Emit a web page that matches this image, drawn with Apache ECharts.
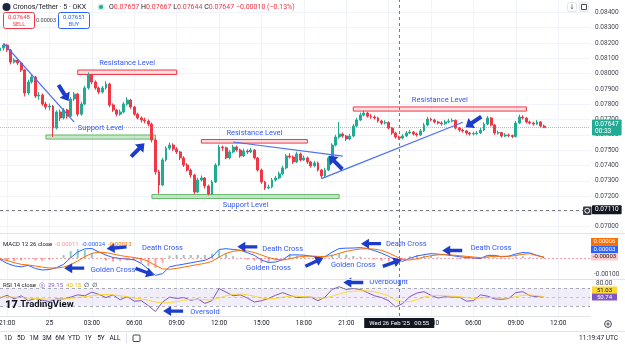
<!DOCTYPE html>
<html>
<head>
<meta charset="utf-8">
<title>Cronos/Tether 5 OKX</title>
<script src="https://cdn.jsdelivr.net/npm/echarts@6.0.0/dist/echarts.min.js"></script>
<style>
html,body{margin:0;padding:0;background:#fff}
#chart{width:625px;height:351px}
</style>
</head>
<body>
<div id="chart"></div>
<script>
// prices are kept in 1/100000 USDT, MACD in 1e-5 too
var opens = [8150,8167,8186,8154,8075,8088,8069,8023,7873,7945,
  7977,7853,7860,7801,7782,7788,7644,7749,7710,7762,
  7722,7834,7866,7735,7801,7906,7990,7945,7906,7879,
  7906,7932,7795,7762,7735,7749,7801,7827,7782,7735,
  7710,7697,7690,7670,7566,7358,7272,7436,7513,7533,
  7507,7488,7449,7403,7370,7337,7226,7305,7318,7266,
  7213,7292,7403,7520,7515,7449,7488,7520,7501,7462,
  7494,7488,7501,7449,7370,7292,7253,7259,7305,7318,
  7345,7384,7462,7455,7423,7475,7436,7449,7423,7397,
  7416,7370,7331,7370,7449,7533,7586,7605,7592,7573,
  7592,7657,7697,7729,7742,7722,7716,7710,7690,7677,
  7680,7644,7612,7586,7579,7592,7612,7618,7605,7599,
  7625,7664,7703,7697,7684,7677,7672,7684,7690,7694,
  7644,7631,7625,7612,7605,7608,7612,7631,7670,7710,
  7664,7612,7615,7592,7599,7595,7589,7677,7716,7710,
  7684,7677,7670,7684,7657];
var closes = [8167,8186,8154,8075,8088,8069,8023,7873,7945,7977,
  7853,7860,7801,7782,7788,7644,7749,7710,7762,7722,
  7834,7866,7735,7801,7906,7990,7945,7906,7879,7906,
  7932,7795,7762,7735,7749,7801,7827,7782,7735,7710,
  7697,7690,7670,7566,7358,7272,7436,7513,7533,7507,
  7488,7449,7403,7370,7337,7226,7305,7318,7266,7213,
  7292,7403,7520,7515,7449,7488,7520,7501,7462,7494,
  7488,7501,7449,7370,7292,7253,7259,7305,7318,7345,
  7384,7462,7455,7423,7475,7436,7449,7423,7397,7416,
  7370,7331,7370,7449,7533,7586,7605,7592,7573,7592,
  7657,7697,7729,7742,7722,7716,7710,7690,7677,7680,
  7644,7612,7586,7579,7592,7612,7618,7605,7599,7625,
  7664,7703,7697,7684,7677,7672,7684,7690,7694,7644,
  7631,7625,7612,7605,7608,7612,7631,7670,7710,7664,
  7612,7615,7592,7599,7595,7589,7677,7716,7710,7684,
  7677,7670,7684,7657,7647];
var highs = [8192,8195,8192,8160,8100,8095,8080,8030,7960,7995,
  7985,7880,7870,7815,7805,7795,7760,7765,7775,7770,
  7845,7880,7875,7815,7920,8008,7998,7955,7915,7920,
  7950,7940,7805,7770,7765,7815,7845,7835,7790,7745,
  7720,7712,7700,7680,7575,7370,7450,7525,7550,7545,
  7520,7495,7460,7415,7380,7345,7320,7335,7325,7275,
  7305,7415,7535,7530,7522,7500,7535,7530,7510,7510,
  7505,7515,7508,7455,7380,7300,7275,7318,7332,7360,
  7398,7475,7480,7465,7490,7485,7465,7458,7430,7430,
  7425,7378,7385,7460,7545,7600,7684,7615,7600,7605,
  7670,7710,7745,7758,7750,7735,7728,7718,7698,7695,
  7688,7650,7620,7595,7605,7625,7632,7625,7615,7638,
  7678,7718,7712,7705,7692,7688,7698,7705,7708,7700,
  7652,7640,7632,7620,7620,7625,7645,7682,7722,7716,
  7670,7628,7620,7612,7608,7602,7690,7732,7728,7715,
  7692,7685,7696,7690,7667];
var lows = [8140,8150,8140,8060,8065,8055,8010,7850,7860,7935,
  7840,7830,7790,7765,7760,7586,7635,7690,7700,7705,
  7715,7820,7720,7725,7795,7895,7930,7895,7865,7870,
  7895,7780,7750,7720,7725,7740,7790,7770,7725,7700,
  7680,7675,7655,7550,7340,7215,7265,7425,7500,7495,
  7475,7435,7390,7360,7320,7212,7220,7295,7250,7205,
  7208,7285,7395,7495,7440,7440,7480,7490,7450,7455,
  7475,7480,7440,7360,7280,7240,7245,7250,7295,7310,
  7335,7375,7445,7410,7415,7425,7430,7410,7385,7388,
  7360,7315,7325,7362,7440,7525,7575,7580,7560,7565,
  7585,7650,7690,7720,7712,7705,7700,7680,7665,7668,
  7635,7600,7575,7568,7570,7585,7605,7595,7588,7592,
  7618,7655,7688,7675,7668,7660,7665,7678,7682,7635,
  7620,7615,7600,7595,7596,7600,7605,7625,7662,7655,
  7600,7602,7582,7585,7585,7578,7582,7670,7700,7675,
  7668,7660,7664,7650,7644];

// indicators, one reading every 30 minutes
var macd = [-9,-32,-47,-53,-44,-63,-72,-69,-58,-38,
  2,36,55,57,36,17,3,-3,-6,-11,
  -33,-68,-104,-94,-53,-44,-37,-29,-21,-14,
  6,51,56,51,47,32,16,-12,-27,-24,
  -10,18,19,17,11,5,8,35,57,59,
  60,62,57,44,29,10,-12,-20,-2,12,
  20,26,23,20,14,8,3,0,-3,16,
  16,7,11,24,33,30,16,3];
var signal = [-5,-15,-28,-38,-42,-48,-55,-60,-60,-55,
  -40,-18,8,28,35,32,24,15,8,3,
  -5,-20,-45,-65,-68,-62,-55,-47,-39,-32,
  -20,5,28,40,45,42,33,18,3,-8,
  -12,-5,5,10,12,10,9,15,28,40,
  48,54,56,53,46,30,10,-10,-12,-5,
  5,14,19,20,18,14,10,6,2,6,
  10,10,10,15,22,26,14,6];
var hist = [-4,-17,-19,-15,-2,-15,-17,-9,2,17,
  42,54,47,29,1,-15,-21,-18,-14,-14,
  -28,-48,-59,-29,15,18,18,18,18,18,
  26,46,28,11,2,-10,-17,-30,-30,-16,
  2,23,14,7,-1,-5,-1,20,29,19,
  12,8,1,-9,-17,-20,-22,-10,10,17,
  15,12,4,0,-4,-6,-7,-6,-5,10,
  6,-3,1,9,11,4,2,-3];
var rsi = [48,54,46,53,42,47,43,40,46,46,
  50,55,53,61,56,49,55,44,51,41,
  42,31,18,39,50,47,49,43,46,36,
  42,69,61,53,55,48,39,42,47,54,
  60,54,49,50,50,42,50,67,73,67,
  69,67,60,53,49,42,28,36,51,59,
  62,54,48,51,50,50,41,42,55,52,
  46,45,47,60,62,53,51,50.74];
var rsiMa = [50,50,50,49,48,47,46,45,45,46,
  47,49,51,53,55,56,55,53,51,48,
  46,43,39,37,38,40,43,45,45,44,
  44,48,53,56,57,55,52,48,46,47,
  50,52,52,51,50,48,48,52,57,61,
  63,64,64,62,58,53,43,40,40,44,
  50,53,54,53,52,51,49,47,48,49,
  49,48,48,51,54,55,53,51.03];

var tickLabels = ['21:00','25','03:00','06:00','09:00','12:00','15:00','18:00','21:00','26','03:00','06:00','09:00','12:00'];

// drawn levels and lines (slot index, price)
var levelNames = ['Resistance Level','Support Level','Resistance Level','Support Level','Resistance Level'];
var levelFrom = [22, 13, 57, 43, 100];
var levelTo = [50, 44, 87, 96, 149];
var levelLow = [7994, 7572, 7546, 7184, 7755];
var levelHigh = [8023, 7599, 7569, 7210, 7782];
var trendFrom = [1, 66, 91], trendFromPrice = [8198, 7553, 7314];
var trendTo = [21, 97, 131], trendToPrice = [7683, 7461, 7682];
var arrowSlot = [18, 39, 95, 134], arrowPrice = [7873, 7501, 7419, 7684], arrowTurn = [-58, 45, 135, 214];

var macdArrowSlot = [21, 41, 33, 70, 89, 105, 111, 128];
var macdArrowVal = [-61, -83, 61, 67, -24, 86, -30, 45];
var macdArrowTurn = [180, -20, 185, 180, 25, 180, 20, 180];
var macdNotes = ['Death Cross','Golden Cross','Death Cross','Golden Cross','Death Cross','Golden Cross','Death Cross'];
var macdNoteSlot = [46, 32, 80, 76, 115, 100, 139];
var macdNoteVal = [57, -74, 51, -61, 82, -42, 57];

var rsiArrowSlot = [100, 49], rsiArrowVal = [82.4, 19], rsiArrowTurn = [180, 180];
var rsiNotes = ['Overbought', 'Oversold'], rsiNoteSlot = [110, 58], rsiNoteVal = [83.6, 16.9];

var lastPrice = 7647, crossPrice = 7110, crossSlot = 113;
var crossTime = "Wed 26 Feb '25   00:55";
var ohlcKeys = ['O','H','L','C'], ohlcVals = ['0.07657','0.07667','0.07644','0.07647'];

var FONT = 'Roboto, "Noto Sans", "DejaVu Sans", sans-serif';
var UP = '#22ab94', DOWN = '#f23645', BLUE = '#2962ff', ORANGE = '#ff6d00';
var PURPLE = '#7e57c2', YELLOW = '#fdd835', NOTE = '#3358f4', ARROW = '#1c3cc9';
var TEXT = '#131722', SPLIT = '#f0f3fa', EDGE = '#e0e3eb';
var ARROW_PATH = 'path://M0,5L12,5L12,1L20,7L12,13L12,9L0,9Z';
var CROSS = { color: '#787b86', type: [3, 3], width: 1 };

var SLOTS = 168;   // 15 min each, first one 20:30
var TICK0 = 2, TICK_STEP = 12;
function isTick(i) { return i >= TICK0 && (i - TICK0) % TICK_STEP === 0; }
function px(v) { return (v / 1e5).toFixed(5); }

var cats = [];
for (var i = 0; i < SLOTS; i++) cats.push(String(i));

function spread(arr) {
  var out = [];
  for (var i = 0; i < SLOTS; i++) out.push(i % 2 === 0 && i / 2 < arr.length ? arr[i / 2] : null);
  return out;
}

var candles = opens.map(function (o, i) { return [o, closes[i], lows[i], highs[i]]; });

function arrowPoint(slot, val, turn, size) {
  return { coord: [slot, val], symbol: ARROW_PATH, symbolSize: size, symbolRotate: turn,
    itemStyle: { color: ARROW }, label: { show: false } };
}
function notePoint(slot, val, text) {
  return { coord: [slot, val], symbol: 'rect', symbolSize: 1, itemStyle: { color: 'rgba(0,0,0,0)' },
    label: { show: true, position: 'inside', formatter: text, color: NOTE, fontSize: 7.5, fontFamily: FONT } };
}

var levelAreas = levelNames.map(function (name, k) {
  var res = name.indexOf('Resistance') === 0;
  return [{
    name: name, coord: [levelFrom[k], levelLow[k]],
    itemStyle: res ? { color: 'rgba(242,54,69,0.15)', borderColor: DOWN, borderWidth: 1 }
                   : { color: 'rgba(76,175,80,0.3)', borderColor: '#66bb6a', borderWidth: 1 },
    label: { show: true, position: k === 3 ? 'bottom' : 'top', distance: 2, color: NOTE, fontSize: 7.5, fontFamily: FONT }
  }, { coord: [levelTo[k], levelHigh[k]] }];
});

var trendLines = trendFrom.map(function (s, k) {
  return [{ coord: [s, trendFromPrice[k]], lineStyle: { color: '#4d6ef2', width: 1.2, type: 'solid' } },
          { coord: [trendTo[k], trendToPrice[k]] }];
});

var priceTag = { show: true, position: 'end', distance: 2, color: '#ffffff', fontSize: 6.5, fontFamily: FONT, padding: [1, 3], borderRadius: 1 };

var timeAxis = function (grid, showLabels) {
  return {
    type: 'category', gridIndex: grid, data: cats, boundaryGap: false,
    axisLine: { show: showLabels, lineStyle: { color: EDGE } },
    axisTick: { show: false },
    axisLabel: {
      show: showLabels, interval: function (i) { return isTick(i); },
      formatter: function (v, i) { return tickLabels[(i - TICK0) / TICK_STEP] || ''; },
      color: TEXT, fontSize: 6.5, fontFamily: FONT, margin: 4
    },
    splitLine: { show: true, interval: function (i) { return isTick(i); }, lineStyle: { color: SPLIT } }
  };
};

// chrome helpers
function label(x, y, text, size, color, extra) {
  var st = { text: text, fill: color || TEXT, fontSize: size || 7, fontFamily: FONT,
    align: 'left', verticalAlign: 'middle', textAlign: 'left', textVerticalAlign: 'middle' };
  if (extra) for (var k in extra) st[k] = extra[k];
  return { type: 'text', x: x, y: y, z: 100, silent: true, style: st };
}
function centered(x, y, text, size, color, extra) {
  var e = label(x, y, text, size, color, extra);
  e.style.align = 'center'; e.style.textAlign = 'center';
  return e;
}
function box(x, y, w, h, fill, stroke, r) {
  return { type: 'rect', z: 99, silent: true, shape: { x: x, y: y, width: w, height: h, r: r || 0 },
    style: { fill: fill || 'rgba(0,0,0,0)', stroke: stroke || null, lineWidth: 1 } };
}
function rule(x1, y1, x2, y2, color) {
  return { type: 'line', z: 98, silent: true, shape: { x1: x1, y1: y1, x2: x2, y2: y2 }, style: { stroke: color || EDGE, lineWidth: 1 } };
}
function dot(cx, cy, r, fill, stroke) {
  return { type: 'circle', z: 100, silent: true, shape: { cx: cx, cy: cy, r: r },
    style: { fill: fill || 'rgba(0,0,0,0)', stroke: stroke || null, lineWidth: 1 } };
}

var ohlcText = ohlcKeys.map(function (k, i) { return '{k|' + k + '}{v|' + ohlcVals[i] + '}'; }).join(' ') + ' {v|\u22120.00010 (\u22120.13%)}';
var richBase = function (c) { return { fill: c, fontSize: 7, fontFamily: FONT }; };

var toolbar = ['1D','5D','1M','3M','6M','YTD','1Y','5Y','ALL'];
var toolbarX = [8, 21, 34, 47, 60, 74, 88, 101, 115];

var chrome = [
  rule(0, 233.5, 625, 233.5),
  rule(0, 279.5, 625, 279.5),
  rule(0, 331.5, 625, 331.5),
  dot(6.5, 7, 4, '#1c2541'),
  label(13, 7, 'Cronos/Tether \u00b7 5 \u00b7 OKX', 7),
  dot(101, 7, 3.6, 'rgba(34,171,148,0.22)'),
  dot(101, 7, 2, UP),
  label(109, 7, ohlcText, 7, DOWN, { rich: { k: richBase(TEXT), v: richBase(DOWN) } }),
  box(3.5, 12.5, 31, 16, '#fff', DOWN, 2),
  centered(19, 17.5, '0.07648', 6, DOWN),
  centered(19, 24.5, 'SELL', 5.5, DOWN),
  centered(46, 21, '0.00003', 5.5, '#434651'),
  box(58.5, 12.5, 31, 16, '#fff', BLUE, 2),
  centered(74, 17.5, '0.07651', 6, BLUE),
  centered(74, 24.5, 'BUY', 5.5, BLUE),
  box(567.5, 2.5, 9, 9, '#fff', EDGE, 2),
  centered(572, 7, '\u2193', 6.5, '#434651'),
  box(579.5, 2.5, 9, 9, '#fff', EDGE, 2),
  box(581.5, 4.5, 5, 5, null, '#434651', 0),
  box(583, 206.5, 8.5, 8.5, '#363a45', null, 1),
  dot(587.2, 210.7, 2.4, null, '#fff'),
  label(3, 244, '{t|MACD 12 26 close}  {h|-0.00011}  {m|-0.00024}  {s|-0.00013}', 6, TEXT,
    { rich: { t: { fill: TEXT, fontSize: 6, fontFamily: FONT }, h: { fill: '#ef9a9a', fontSize: 6, fontFamily: FONT },
      m: { fill: BLUE, fontSize: 6, fontFamily: FONT }, s: { fill: ORANGE, fontSize: 6, fontFamily: FONT } } }),
  label(3, 285, '{t|RSI 14 close}  {c|\u25ce}  {r|29.15}  {y|40.15}  {t|\u2205  \u2205}', 6, TEXT,
    { rich: { t: { fill: TEXT, fontSize: 6, fontFamily: FONT }, c: { fill: PURPLE, fontSize: 7, fontFamily: FONT },
      r: { fill: PURPLE, fontSize: 6, fontFamily: FONT }, y: { fill: '#e6b800', fontSize: 6, fontFamily: FONT } } }),
  label(5, 305, '{i|17} {w|TradingView}', 10, TEXT,
    { rich: { i: { fill: TEXT, fontSize: 11, fontWeight: 900, fontFamily: FONT }, w: { fill: TEXT, fontSize: 9.5, fontWeight: 'bold', fontFamily: FONT } } }),
  box(591, 238, 27, 7.5, ORANGE),
  centered(604.5, 241.8, '0.00006', 6, '#fff'),
  box(591, 245.5, 27, 7.5, BLUE),
  centered(604.5, 249.3, '0.00003', 6, '#fff'),
  box(591, 253, 27, 7.5, '#fccbcd'),
  centered(604.5, 256.8, '-0.00003', 6, TEXT),
  box(592, 286.5, 25, 7, YELLOW),
  centered(604.5, 290, '51.03', 6, TEXT),
  box(592, 293.5, 25, 7, PURPLE),
  centered(604.5, 297, '50.74', 6, '#fff'),
  dot(608, 324, 3.4, null, '#434651'),
  dot(608, 324, 1.1, null, '#434651'),
  rule(126.5, 333, 126.5, 343),
  box(133, 335, 7, 6.5, null, '#434651', 1),
  label(618, 338, '11:19:47 UTC', 6.5, TEXT, { align: 'right', textAlign: 'right' })
];
toolbar.forEach(function (t, k) { chrome.push(centered(toolbarX[k], 338, t, 6.5, TEXT)); });

var option = {
  animation: false,
  backgroundColor: '#ffffff',
  textStyle: { fontFamily: FONT },
  grid: [
    { left: 0, right: 35, top: -3, height: 245, containLabel: false, outerBoundsMode: 'none' },
    { left: 0, right: 35, top: 233, height: 50, containLabel: false, outerBoundsMode: 'none' },
    { left: 0, right: 35, top: 280, height: 36, containLabel: false, outerBoundsMode: 'none' }
  ],
  xAxis: [timeAxis(0, false), timeAxis(1, false), timeAxis(2, true)],
  yAxis: [
    { type: 'value', gridIndex: 0, position: 'right', min: 6900, max: 8500, interval: 100, scale: true,
      axisLine: { show: false }, axisTick: { show: false },
      axisLabel: { formatter: px, color: '#434651', fontSize: 6.5, fontFamily: FONT, margin: 5, showMinLabel: false, showMaxLabel: false },
      splitLine: { lineStyle: { color: SPLIT }, showMinLine: false, showMaxLine: false } },
    { type: 'value', gridIndex: 1, position: 'right', min: -150, max: 150, interval: 50,
      axisLine: { show: false }, axisTick: { show: false }, splitLine: { show: false },
      axisLabel: { formatter: function (v) { return v === -100 ? '-0.00100' : ''; }, color: '#434651', fontSize: 6.5, fontFamily: FONT, margin: 4 } },
    { type: 'value', gridIndex: 2, position: 'right', min: 8, max: 88, interval: 8,
      axisLine: { show: false }, axisTick: { show: false }, splitLine: { show: false },
      axisLabel: { formatter: function (v) { return v === 80 ? '80.00' : ''; }, color: '#434651', fontSize: 6.5, fontFamily: FONT, margin: 6 } }
  ],
  series: [
    {
      type: 'candlestick', name: 'CRO/USDT', xAxisIndex: 0, yAxisIndex: 0, data: candles, barWidth: 2.4,
      itemStyle: { color: UP, color0: DOWN, borderColor: UP, borderColor0: DOWN, borderWidth: 1 },
      markArea: { silent: true, data: levelAreas },
      markLine: {
        silent: true, symbol: ['none', 'none'], label: { show: false }, lineStyle: { type: 'solid' },
        data: [
          { yAxis: lastPrice, lineStyle: { color: 'rgba(34,171,148,0.55)', type: 'dotted', width: 1 },
            label: Object.assign({}, priceTag, { formatter: px(lastPrice) + '\n00:33', backgroundColor: UP, lineHeight: 7 }) },
          { yAxis: crossPrice, lineStyle: CROSS,
            label: Object.assign({}, priceTag, { formatter: px(crossPrice), backgroundColor: TEXT }) },
          { xAxis: crossSlot, lineStyle: CROSS }
        ].concat(trendLines)
      },
      markPoint: {
        silent: true,
        data: arrowSlot.map(function (s, k) { return arrowPoint(s, arrowPrice[k], arrowTurn[k], [19, 12]); })
      }
    },
    {
      type: 'bar', name: 'Histogram', xAxisIndex: 1, yAxisIndex: 1, data: spread(hist), barWidth: 2,
      itemStyle: { color: function (p) { return p.value >= 0 ? 'rgba(38,166,154,0.55)' : 'rgba(255,82,82,0.55)'; } },
      markLine: {
        silent: true, symbol: ['none', 'none'], label: { show: false },
        data: [
          { yAxis: 0, lineStyle: { color: 'rgba(242,54,69,0.45)', type: [2, 2], width: 1 } },
          { xAxis: crossSlot, lineStyle: CROSS }
        ]
      }
    },
    {
      type: 'line', name: 'MACD', xAxisIndex: 1, yAxisIndex: 1, data: spread(macd), connectNulls: true,
      showSymbol: false, lineStyle: { color: BLUE, width: 1 },
      markPoint: {
        silent: true,
        data: macdArrowSlot.map(function (s, k) { return arrowPoint(s, macdArrowVal[k], macdArrowTurn[k], [20, 10]); })
          .concat(macdNotes.map(function (t, k) { return notePoint(macdNoteSlot[k], macdNoteVal[k], t); }))
      }
    },
    {
      type: 'line', name: 'Signal', xAxisIndex: 1, yAxisIndex: 1, data: spread(signal), connectNulls: true,
      showSymbol: false, lineStyle: { color: ORANGE, width: 1 }
    },
    {
      type: 'line', name: 'RSI', xAxisIndex: 2, yAxisIndex: 2, data: spread(rsi), connectNulls: true,
      showSymbol: false, lineStyle: { color: PURPLE, width: 1 },
      markArea: { silent: true, data: [[{ yAxis: 30, itemStyle: { color: 'rgba(126,87,194,0.1)' } }, { yAxis: 70 }]] },
      markLine: {
        silent: true, symbol: ['none', 'none'], label: { show: false },
        data: [
          { yAxis: 70, lineStyle: { color: '#9598a1', type: [3, 3], width: 0.8 } },
          { yAxis: 50, lineStyle: { color: 'rgba(149,152,161,0.6)', type: [3, 3], width: 0.8 } },
          { yAxis: 30, lineStyle: { color: '#9598a1', type: [3, 3], width: 0.8 } },
          { xAxis: crossSlot, lineStyle: CROSS,
            label: { show: true, position: 'start', distance: 2, formatter: crossTime, backgroundColor: TEXT,
              color: '#fff', fontSize: 6, fontFamily: FONT, padding: [2, 5] } }
        ]
      },
      markPoint: {
        silent: true,
        data: rsiArrowSlot.map(function (s, k) { return arrowPoint(s, rsiArrowVal[k], rsiArrowTurn[k], [20, 10]); })
          .concat(rsiNotes.map(function (t, k) { return notePoint(rsiNoteSlot[k], rsiNoteVal[k], t); }))
      }
    },
    {
      type: 'line', name: 'RSI MA', xAxisIndex: 2, yAxisIndex: 2, data: spread(rsiMa), connectNulls: true,
      showSymbol: false, lineStyle: { color: YELLOW, width: 1 }
    }
  ],
  graphic: chrome
};

var chart = echarts.init(document.getElementById('chart'));
chart.setOption(option);
</script>
</body>
</html>
